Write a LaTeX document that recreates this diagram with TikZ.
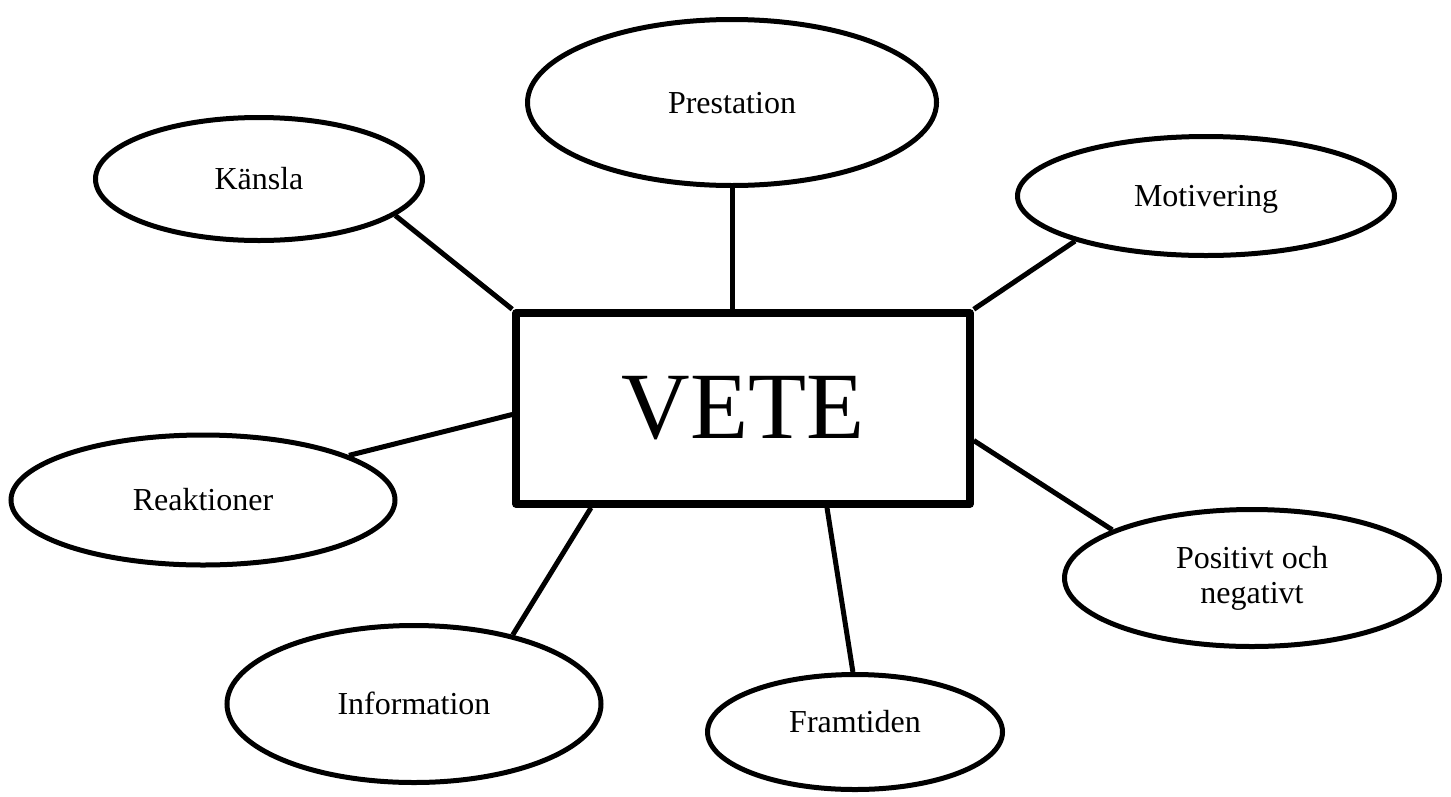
\documentclass[tikz,border=0pt]{standalone}
\usepackage{fontspec}
\setmainfont{Liberation Serif}
\usetikzlibrary{shapes.geometric,calc,shadows}

\tikzset{
  topic/.style={ellipse, draw=black, fill=white, line width=5pt, inner sep=0pt,
    font=\fontsize{32}{35}\selectfont, text height=21pt, text depth=0pt},
  core/.style={rectangle, draw=black, fill=white, line width=7.5pt, line join=round,
    inner sep=0pt, minimum width=454pt, minimum height=191pt,
    font=\fontsize{95}{100}\selectfont,
    drop shadow={shadow xshift=2.5pt, shadow yshift=-2.5pt, opacity=0.22, fill=black}},
  link/.style={draw=black, line width=5pt}
}

\begin{document}
\begin{tikzpicture}[x=1pt, y=-1pt]
  \useasboundingbox (0,0) rectangle (1451,796);

  % central concept
  \node[core] (vete) at (743,408.5) {VETE};

  % surrounding topics
  \node[topic, minimum width=327pt, minimum height=123pt] (kansla) at (259,179) {Känsla};
  \node[topic, minimum width=409pt, minimum height=166pt] (prest) at (732,102.5) {Prestation};
  \node[topic, minimum width=377pt, minimum height=119pt] (motiv) at (1206,196) {Motivering};
  \node[topic, minimum width=384pt, minimum height=130pt] (reakt) at (203,500) {Reaktioner};
  \node[topic, minimum width=374pt, minimum height=157pt] (info) at (414,704) {Information};
  \node[topic, minimum width=295pt, minimum height=115pt, text depth=21pt] (fram) at (855,732) {Framtiden};
  \node[topic, minimum width=375pt, minimum height=137pt, text height=, text depth=, align=center]
    (pos) at (1252,578) {Positivt och\\negativt};

  % connectors
  \draw[link] (kansla.-15.5) -- (vete.north west);
  \draw[link] (prest.south) -- (prest.south |- vete.north);
  \draw[link] (motiv.199.7) -- (vete.north east);
  \draw[link] (reakt.17) -- ($(vete.west)+(0,6)$);
  \draw[link] (info.35) -- ($(vete.south)+(-152,0)$);
  \draw[link] (fram.92) -- ($(vete.south)+(84,0)$);
  \draw[link] (pos.161) -- ($(vete.east)+(0,32)$);
\end{tikzpicture}
\end{document}
